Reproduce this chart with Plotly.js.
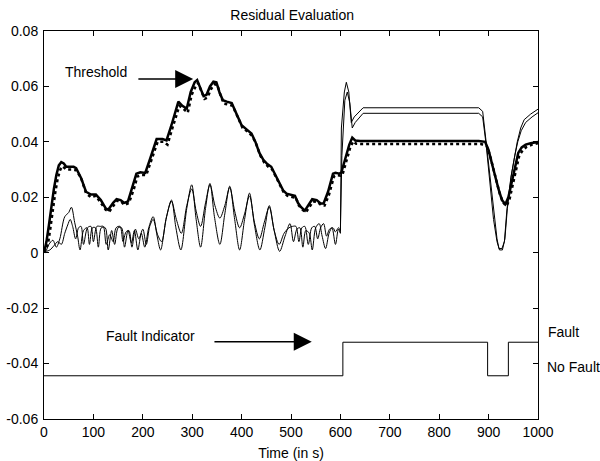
<!DOCTYPE html>
<html><head><meta charset="utf-8">
<script src="https://cdn.plot.ly/plotly-3.0.1.min.js"></script>
<style>html,body{margin:0;padding:0;background:#fff}#chart{width:600px;height:461px}</style>
</head><body><div id="chart"></div>
<script>
// Threshold (thick solid)
const thrX = [0,5,10,15,20,25,30,35,40,45,60,65,75,85,95,105,115,125,130,140,147,155,162,170,180,187,195,205,215,228,240,248,258,265,272,280,289,297,305,310,318,323,329,336,343,349,355,362,370,380,390,400,410,420,428,436,444,452,460,468,476,484,491,500,508,514,520,528,535,543,552,560,566,575,585,590,598,602,610,618,624,630,640,880,893,900,907,914,920,927,934,940,947,954,960,967,975,985,1000];
const thrY = [0,0.004,0.010,0.017,0.023,0.028,0.0315,0.0327,0.0322,0.031,0.031,0.0305,0.027,0.022,0.021,0.021,0.019,0.016,0.0155,0.018,0.0193,0.019,0.018,0.0185,0.024,0.0285,0.029,0.0288,0.034,0.041,0.041,0.0405,0.046,0.050,0.0545,0.053,0.052,0.058,0.0615,0.0623,0.059,0.0565,0.057,0.060,0.0617,0.0615,0.058,0.055,0.0545,0.054,0.050,0.046,0.0445,0.043,0.040,0.036,0.0335,0.032,0.031,0.028,0.025,0.0225,0.0213,0.021,0.0205,0.018,0.0165,0.0152,0.017,0.0193,0.019,0.0178,0.0178,0.022,0.0285,0.0288,0.0285,0.029,0.034,0.039,0.0415,0.0405,0.0403,0.0403,0.040,0.037,0.032,0.027,0.023,0.019,0.0175,0.020,0.026,0.032,0.036,0.038,0.039,0.0395,0.040];

// Dotted reference curve
const dotX = [0,8,13,18,23,28,33,38,45,55,65,75,85,95,105,115,125,132,140,148,156,163,172,182,189,197,207,217,230,242,250,260,267,274,282,291,299,307,312,320,325,331,338,345,351,357,364,372,382,392,402,412,422,430,438,446,454,462,470,478,486,493,502,510,516,522,530,537,545,554,562,568,577,587,592,600,604,612,620,626,632,642,885,896,903,910,917,923,930,936,942,949,956,962,969,977,988,1000];
const dotY = [0,0.003,0.009,0.016,0.022,0.027,0.0300,0.0312,0.030,0.030,0.0298,0.027,0.0215,0.020,0.0205,0.018,0.0155,0.0148,0.017,0.0188,0.0185,0.0172,0.018,0.023,0.0275,0.028,0.028,0.033,0.040,0.040,0.039,0.045,0.049,0.053,0.052,0.0505,0.057,0.060,0.0612,0.058,0.0555,0.056,0.059,0.0608,0.0605,0.057,0.0538,0.0535,0.053,0.049,0.045,0.0437,0.042,0.039,0.035,0.0325,0.031,0.030,0.027,0.024,0.0215,0.0205,0.020,0.0198,0.017,0.0157,0.0145,0.0163,0.0185,0.0183,0.017,0.017,0.021,0.0275,0.028,0.0278,0.028,0.033,0.038,0.0402,0.0393,0.0392,0.0392,0.0385,0.035,0.030,0.025,0.021,0.018,0.0168,0.019,0.025,0.031,0.035,0.037,0.0382,0.039,0.0395];

// Residual 1 (thin) - oscillating part up to t=600, then after the fault
const r1X = [0,5,10,18,25,32,42,50,55.5,62,68,73,80,87,92,98,104,110,116,124,130,137,143,150,157,163,170,177,183,190,197,204,212,221,229,236,247,258,267,277,289,299,308,317,327,336,345,356,366,376,386,396,406,416,426,437,447,456,466,477,488,498,505,512,518,524,530,537,543,550,557,563,570,577,583,590,596,600];
const r1Y = [0,0.001,0.003,0.0045,0.002,0.005,0.013,0.0145,0.0164,0.011,0.006,0.001,0.008,0.009,0.003,0.009,0.009,0.002,0.009,0.009,0.001,0.008,0.003,0.009,0.009,0.002,0.008,0.0035,0.008,0.001,0.007,0.002,0.009,0.013,0.006,0.001,0.012,0.019,0.009,0.001,0.016,0.0245,0.012,0.002,0.016,0.025,0.013,0.003,0.014,0.024,0.012,0.001,0.012,0.0215,0.010,0.001,0.009,0.017,0.008,0.0005,0.006,0.0105,0.004,0.0085,0.009,0.002,0.008,0.007,0.001,0.009,0.0105,0.006,0.0015,0.007,0.009,0.003,0.0085,0.007];
const r1bX = [600,602,608,612,617,622,628,636,646,880,888,895,903,910,917,921,927,932,937,945,952,958,965,972,985,1000];
const r1bY = [0.007,0.045,0.058,0.0615,0.058,0.047,0.049,0.0505,0.0523,0.0523,0.051,0.040,0.027,0.015,0.005,0.0015,0.0015,0.004,0.0154,0.027,0.034,0.040,0.045,0.048,0.050,0.0518];

// Residual 2 (thin)
const r2X = [0,5,12,20,28,35,42,48,53,58,64,70,75,80,88,95,100,107,114,120,126,133,140,146,154,160,166,172,178,185,192,200,207,214,221,230,238,248,258,268,278,289,299,308,317,327,336,346,356,366,376,386,396,406,416,426,436,446,456,466,476,486,496,503,510,516,522,528,535,542,548,554,560,566,572,578,585,590,596,600];
const r2Y = [0,0.0005,0.001,0.0025,0.004,0.003,0.007,0.010,0.012,0.0095,0.005,0.009,0.0095,0.003,0.009,0.0095,0.004,0.0095,0.0095,0.0095,0.003,0.0065,0.004,0.009,0.0095,0.004,0.0075,0.008,0.002,0.0085,0.005,0.0085,0.003,0.0095,0.012,0.0065,0.004,0.013,0.0185,0.012,0.007,0.017,0.023,0.015,0.0095,0.018,0.0245,0.017,0.0125,0.017,0.0235,0.015,0.009,0.014,0.0205,0.011,0.005,0.011,0.0165,0.008,0.003,0.007,0.009,0.0095,0.0095,0.004,0.009,0.0095,0.003,0.009,0.0095,0.005,0.009,0.0105,0.006,0.0085,0.009,0.0075,0.009,0.008];
const r2bX = [600,603,609,614,619,624,630,638,646,880,888,895,903,910,917,922,928,933,938,946,953,959,966,975,988,1000];
const r2bY = [0.008,0.035,0.055,0.058,0.054,0.045,0.047,0.0485,0.0503,0.0503,0.049,0.039,0.025,0.012,0.004,0.001,0.001,0.005,0.016,0.028,0.035,0.040,0.044,0.047,0.049,0.0505];

// Fault indicator (step)
const faultX = [0,605,898,940,1000];
const faultY = [-0.0444,-0.0323,-0.0444,-0.0323,-0.0323];

const xTicks = [0,100,200,300,400,500,600,700,800,900,1000];
const yTicks = [-0.06,-0.04,-0.02,0,0.02,0.04,0.06,0.08];
const yTickText = ['-0.06','-0.04','-0.02','0','0.02','0.04','0.06','0.08'];

const FONT = 'Liberation Sans, Arial, sans-serif';
const thin = {color:'#000',width:1};
const traces = [
  {x:r1X,y:r1Y,mode:'lines',line:Object.assign({shape:'spline',smoothing:0.9},thin),hoverinfo:'skip'},
  {x:r1bX,y:r1bY,mode:'lines',line:thin,hoverinfo:'skip'},
  {x:r2X,y:r2Y,mode:'lines',line:Object.assign({shape:'spline',smoothing:0.9},thin),hoverinfo:'skip'},
  {x:r2bX,y:r2bY,mode:'lines',line:thin,hoverinfo:'skip'},
  {x:dotX,y:dotY,mode:'lines',line:{color:'#000',width:2.5,dash:'dot'},hoverinfo:'skip'},
  {x:thrX,y:thrY,mode:'lines',line:{color:'#000',width:2.5},hoverinfo:'skip'},
  {x:faultX,y:faultY,mode:'lines',line:{color:'#000',width:1,shape:'hv'},hoverinfo:'skip'}
];
const axisCommon = {showline:true,linecolor:'#000',linewidth:1,mirror:'ticks',ticks:'inside',ticklen:5,tickcolor:'#000',showgrid:false,zeroline:false,tickfont:{family:FONT,size:14,color:'#000'}};
const layout = {
  width:600,height:461,
  margin:{l:44,r:62,t:31,b:42},
  paper_bgcolor:'#fff',plot_bgcolor:'#fff',
  showlegend:false,
  font:{family:FONT,size:14,color:'#000'},
  title:{text:'Residual Evaluation',x:0.487,xanchor:'center',y:0.968,yanchor:'middle',font:{family:FONT,size:14,color:'#000'}},
  xaxis:Object.assign({},axisCommon,{range:[0,1000],tickvals:xTicks,ticktext:xTicks.map(String),
    title:{text:'Time (in s)',font:{family:FONT,size:14,color:'#000'},standoff:9}}),
  yaxis:Object.assign({},axisCommon,{range:[-0.06,0.08],tickvals:yTicks,ticktext:yTickText,ticklabelstandoff:2}),
  annotations:[
    {x:302,y:0.0627,ax:188,ay:0.0627,xref:'x',yref:'y',axref:'x',ayref:'y',showarrow:true,arrowhead:2,arrowsize:2.4,arrowwidth:1.5,arrowcolor:'#000',text:''},
    {x:542,y:-0.0321,ax:342,ay:-0.0321,xref:'x',yref:'y',axref:'x',ayref:'y',showarrow:true,arrowhead:2,arrowsize:2.4,arrowwidth:1.5,arrowcolor:'#000',text:''},
    {x:38,y:0.0653,xref:'x',yref:'y',text:'Threshold',showarrow:false,xanchor:'left',yanchor:'middle',font:{family:FONT,size:14,color:'#000'}},
    {x:121,y:-0.0300,xref:'x',yref:'y',text:'Fault Indicator',showarrow:false,xanchor:'left',yanchor:'middle',font:{family:FONT,size:14,color:'#000'}},
    {x:1.0168,y:-0.0285,xref:'paper',yref:'y',text:'Fault',showarrow:false,xanchor:'left',yanchor:'middle',font:{family:FONT,size:14,color:'#000'}},
    {x:1.0148,y:-0.0411,xref:'paper',yref:'y',text:'No Fault',showarrow:false,xanchor:'left',yanchor:'middle',font:{family:FONT,size:14,color:'#000'}}
  ]
};
Plotly.newPlot('chart',traces,layout,{staticPlot:true,displayModeBar:false});
</script></body></html>
